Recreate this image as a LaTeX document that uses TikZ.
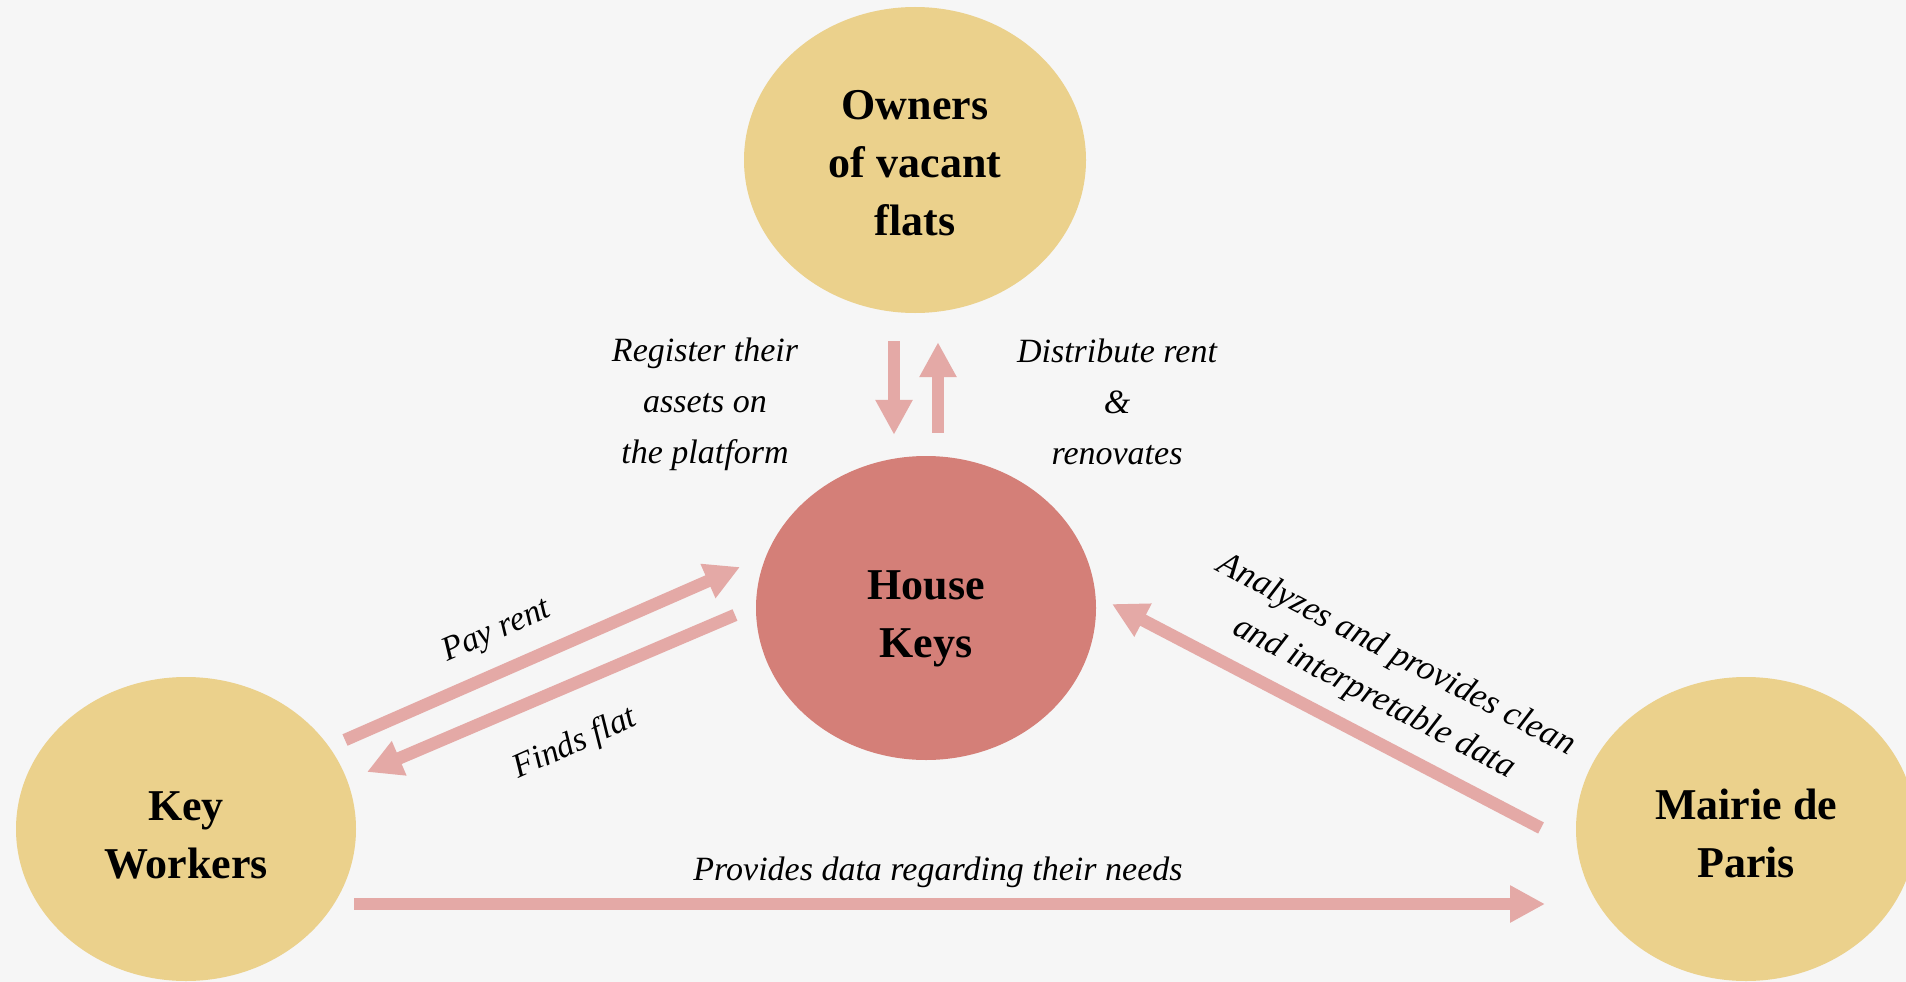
\documentclass[tikz,border=0pt]{standalone}
\usepackage{fontspec}
\setmainfont{Liberation Serif}
\usetikzlibrary{shapes.geometric,arrows.meta,calc}
\definecolor{bgc}{HTML}{F6F6F6}
\definecolor{gold}{HTML}{EBD18C}
\definecolor{rose}{HTML}{D47F78}
\definecolor{arrc}{HTML}{E4A9A6}
\begin{document}
\begin{tikzpicture}[x=1pt,y=-1pt,
  circ/.style={ellipse, inner sep=0pt, minimum width=340pt, minimum height=304pt,
    align=center, font=\fontsize{44}{58}\selectfont\bfseries},
  arr/.style={draw=arrc, line width=12.5pt, -{Triangle[width=35pt,length=35pt]}},
  lab/.style={font=\fontsize{34}{51}\selectfont\itshape, align=center, inner sep=0pt}]
\fill[bgc] (0,0) rectangle (1906,982);
\useasboundingbox (0,0) rectangle (1906,982);
% nodes
\node[circ, fill=gold, minimum width=342pt, minimum height=306pt] (own) at (915,160) {\rule{0pt}{35pt}Owners\\of vacant\\flats};
\node[circ, fill=rose] (hk) at (926,608) {\rule{0pt}{51pt}House\\Keys};
\node[circ, fill=gold] (kw) at (186,829) {\rule{0pt}{41pt}Key\\Workers};
\node[circ, fill=gold] (mr) at (1746,829) {\rule{0pt}{40pt}Mairie de\\Paris};
% connectors
\draw[arr] ($(own.south)+(-21,28)$) -- ($(hk.north)+(-32,-21)$);
\draw[arr] ($(hk.north)+(12,-23)$) -- ($(own.south)+(23,29)$);
\draw[arr] ($(kw.center)+(159,-89)$) -- ($(hk.center)+(-186,-41)$);
\draw[arr] ($(hk.center)+(-191,7)$) -- ($(kw.center)+(181,-57)$);
\draw[arr] ($(kw.center)+(168,75)$) -- ($(mr.center)+(-201,75)$);
\draw[arr] ($(mr.center)+(-205,-1)$) -- ($(hk.center)+(186,-4)$);
% labels
\node[lab] (lreg) at (705,404) {Register their\\assets on\\the platform};
\node[lab] (ldis) at (1117,402) {Distribute rent\\\&\\renovates};
\node[lab, rotate=23.6] (lpay) at (497,632) {Pay rent};
\node[lab, rotate=24] (lfind) at (575,744) {Finds flat};
\node[lab, font=\fontsize{35}{48}\selectfont\itshape, rotate=-27.6] (lana) at (1385,677) {Analyzes and provides clean\\and interpretable data};
\node[lab, anchor=base] (lprov) at (938,880) {Provides data regarding their needs};
\end{tikzpicture}
\end{document}
